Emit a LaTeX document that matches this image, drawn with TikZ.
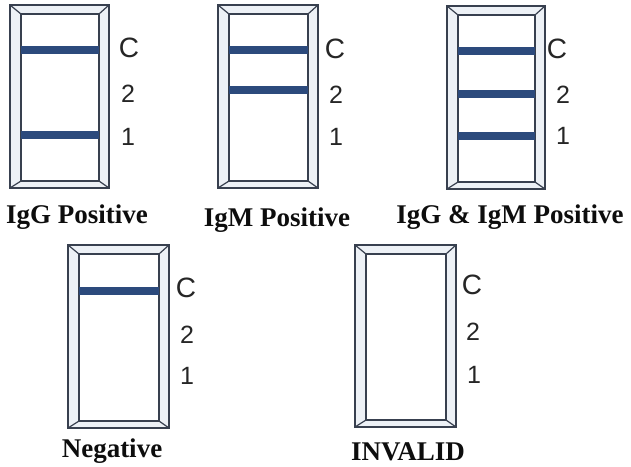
\documentclass[tikz,border=0pt]{standalone}
\usepackage{fontspec}
\setmainfont{Liberation Serif}
\setsansfont{Liberation Sans}
\definecolor{framec}{HTML}{38404F}
\definecolor{bandc}{HTML}{2C4A7C}
\definecolor{gapc}{HTML}{EDF1F6}
\tikzset{
  frameline/.style={draw=framec, line width=2.6pt},
  cornerline/.style={draw=framec, line width=1.2pt},
  bandline/.style={draw=bandc, line width=7.5pt},
  titletext/.style={font=\bfseries\fontsize{27}{30}\selectfont, text=black!95, anchor=base, inner sep=0pt},
  clab/.style={font=\sffamily\fontsize{28}{30}\selectfont, text=black!85, inner sep=0pt},
  nlab/.style={font=\sffamily\fontsize{25}{27}\selectfont, text=black!85, inner sep=0pt},
}
% #1 left, #2 top, #3 right, #4 bottom (outer frame)
\newcommand\teststrip[4]{%
  \fill[gapc] (#1,#2) rectangle (#3,#4);
  \fill[white] (#1+11,#2+9) rectangle (#3-10,#4-7);
  \draw[cornerline] (#1,#2) -- (#1+11,#2+9);
  \draw[cornerline] (#3,#2) -- (#3-10,#2+9);
  \draw[cornerline] (#1,#4) -- (#1+11,#4-7);
  \draw[cornerline] (#3,#4) -- (#3-10,#4-7);
  \draw[frameline] (#1,#2) rectangle (#3,#4);
  \draw[frameline] (#1+11,#2+9) rectangle (#3-10,#4-7);
}
% #1 left, #2 right (outer), #3 y
\newcommand\testband[3]{%
  \draw[bandline] (#1+11,#3) -- (#2-10,#3);
}
\begin{document}
\begin{tikzpicture}[x=1pt,y=-1pt]
\useasboundingbox (0,0) rectangle (631,466);
\fill[white] (0,0) rectangle (631,466);

% IgG Positive
\teststrip{10}{5}{109}{188}
\testband{10}{109}{50}
\testband{10}{109}{135}
\node[clab] (c1) at (129,48) {C};
\node[nlab] (t1) at (128,94) {2};
\node[nlab] (o1) at (128,137) {1};
\node[titletext] (l1) at (77,223) {IgG Positive};

% IgM Positive
\teststrip{218}{5}{318}{188}
\testband{218}{318}{50}
\testband{218}{318}{90}
\node[clab] (c2) at (335,49) {C};
\node[nlab] (t2) at (336,95) {2};
\node[nlab] (o2) at (336,137) {1};
\node[titletext] (l2) at (277,226) {IgM Positive};

% IgG & IgM Positive
\teststrip{447}{6}{545}{189}
\testband{447}{545}{51}
\testband{447}{545}{94}
\testband{447}{545}{136}
\node[clab] (c3) at (557,49) {C};
\node[nlab] (t3) at (563,95) {2};
\node[nlab] (o3) at (563,136) {1};
\node[titletext] (l3) at (510,223) {IgG \& IgM Positive};

% Negative
\teststrip{68}{245}{169}{428}
\testband{68}{169}{291}
\node[clab] (c4) at (186,288) {C};
\node[nlab] (t4) at (187,335) {2};
\node[nlab] (o4) at (187,376) {1};
\node[titletext] (l4) at (112,457) {Negative};

% INVALID
\teststrip{355}{245}{456}{427}
\node[clab] (c5) at (472,285) {C};
\node[nlab] (t5) at (473,332) {2};
\node[nlab] (o5) at (474,375) {1};
\node[titletext] (l5) at (408,460) {INVALID};
\end{tikzpicture}
\end{document}
